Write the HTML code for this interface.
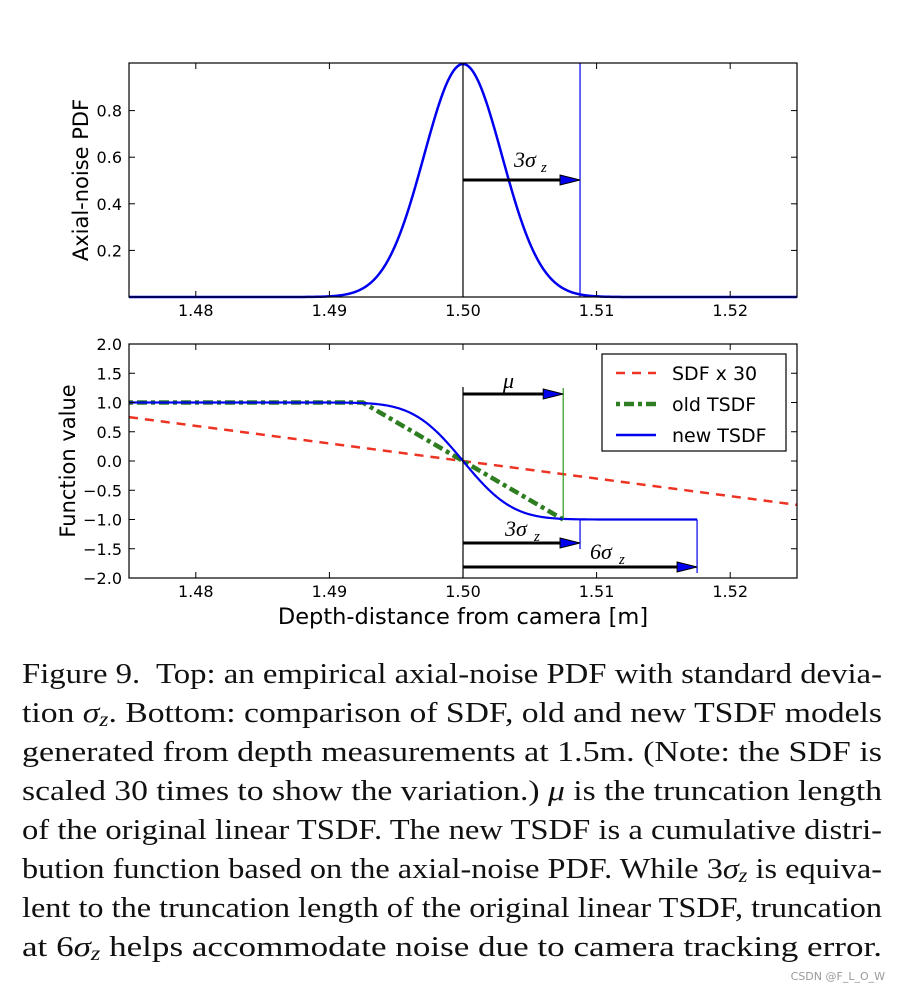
<!DOCTYPE html>
<html><head><meta charset="utf-8"><style>
body{margin:0;background:#fff;width:899px;height:994px;overflow:hidden;font-family:"DejaVu Sans",sans-serif}
#cap{position:absolute;left:22px;top:655px;width:860px;font-family:"Liberation Serif",serif;font-size:29px;line-height:39px;color:#111}
#cap .ln{height:39px;white-space:nowrap}
#cap .ln span{display:inline-block;transform-origin:0 50%}
#cap sub{font-size:20px;position:relative;top:4px;vertical-align:baseline;line-height:0}
#wm{position:absolute;right:14px;top:970px;font-size:11px;color:#999}
</style></head><body>
<svg id="fig" width="899" height="650" style="position:absolute;left:0;top:0"></svg>
<div id="cap">
<div class="ln"><span>Figure 9.&nbsp; Top: an empirical axial-noise PDF with standard devia-</span></div>
<div class="ln"><span>tion <i>σ<sub>z</sub></i>. Bottom: comparison of SDF, old and new TSDF models</span></div>
<div class="ln"><span>generated from depth measurements at 1.5m. (Note: the SDF is</span></div>
<div class="ln"><span>scaled 30 times to show the variation.) <i>μ</i> is the truncation length</span></div>
<div class="ln"><span>of the original linear TSDF. The new TSDF is a cumulative distri-</span></div>
<div class="ln"><span>bution function based on the axial-noise PDF. While 3<i>σ<sub>z</sub></i> is equiva-</span></div>
<div class="ln"><span>lent to the truncation length of the original linear TSDF, truncation</span></div>
<div class="ln"><span>at 6<i>σ<sub>z</sub></i> helps accommodate noise due to camera tracking error.</span></div>
</div>
<div id="wm">CSDN @F_L_O_W</div>
<script>
document.querySelectorAll('#cap .ln span').forEach(sp=>{const w=sp.getBoundingClientRect().width;sp.style.transform='scaleX('+(860/w)+')';});
const xTicks=[1.48,1.49,1.50,1.51,1.52];
const xTickLabels=["1.48","1.49","1.50","1.51","1.52"];
const topYTicks=[0.2,0.4,0.6,0.8];
const botYTicks=[2.0,1.5,1.0,0.5,0.0,-0.5,-1.0,-1.5,-2.0];
const depth=[1.5];
const sigma=[0.00292];
const mu=[0.0075];
const sdfScale=[30];
const legendLabels=["SDF x 30","old TSDF","new TSDF"];
const NS="http://www.w3.org/2000/svg";
const svg=document.getElementById('fig');
const X0=129,X1=797;
const sx=v=>X0+(v-1.475)/(0.05)*(X1-X0);
const tyT=v=>297-v*233;
const tyB=v=>344+(2-v)*(578-344)/4;
function el(t,a,p){const e=document.createElementNS(NS,t);for(const k in a)e.setAttribute(k,a[k]);(p||svg).appendChild(e);return e;}
function txt(s,x,y,a,p){const e=el('text',Object.assign({x:x,y:y,'font-size':16,fill:'#000'},a||{}),p);e.textContent=s;return e;}
const m=depth[0],s=sigma[0];
function erf(x){const t=1/(1+0.3275911*Math.abs(x));const y=1-(((((1.061405429*t-1.453152027)*t)+1.421413741)*t-0.284496736)*t+0.254829592)*t*Math.exp(-x*x);return x>=0?y:-y;}
function arrow(x1,x2,y,name){const g=el('g',{});
el('line',{x1:x1,y1:y,x2:x2-14,y2:y,stroke:'#000',"stroke-width":3},g);
el('polygon',{points:`${x2-20},${y-5} ${x2},${y} ${x2-20},${y+5}`,fill:'#0000ee',stroke:'#000','stroke-width':1},g);}
function axes(name){const g=el('g',{});return g;}
const gT=axes('top-pdf-axes');
const pts=[];for(let i=0;i<=400;i++){const x=1.475+i*0.05/400;pts.push(sx(x)+','+tyT(Math.exp(-((x-m)**2)/(2*s*s))));}
el('line',{x1:sx(m),y1:63,x2:sx(m),y2:297,stroke:'#000','stroke-width':1.2},gT);
el('line',{x1:sx(m+3*s),y1:63,x2:sx(m+3*s),y2:297,stroke:'#0000ee','stroke-width':1.2},gT);
const pdf=el('polyline',{points:pts.join(' '),fill:'none',stroke:'#0000ee','stroke-width':2.5},gT);

arrow(sx(m),sx(m+3*s),180,'top-3sigma-arrow');
const l1=txt('3σ',514,167,{'font-family':'Liberation Serif,serif','font-size':22,'font-style':'italic'});
txt('z',541,172,{'font-family':'Liberation Serif,serif','font-size':15,'font-style':'italic'});
el('rect',{x:X0,y:63,width:X1-X0,height:234,fill:'none',stroke:'#000','stroke-width':1.2},gT);
topYTicks.forEach(v=>{const y=tyT(v);el('line',{x1:X0,y1:y,x2:X0+6,y2:y,stroke:'#000'},gT);el('line',{x1:X1,y1:y,x2:X1-6,y2:y,stroke:'#000'},gT);const t=txt(v.toFixed(1),122,y+6,{'text-anchor':'end'},gT);});
xTicks.forEach((v,i)=>{const x=sx(v);el('line',{x1:x,y1:297,x2:x,y2:291,stroke:'#000'},gT);el('line',{x1:x,y1:63,x2:x,y2:69,stroke:'#000'},gT);const t=txt(xTickLabels[i],x,316,{'text-anchor':'middle'},gT);});
const yl1=txt('Axial-noise PDF',0,0,{'font-size':21,'text-anchor':'middle',transform:'translate(88,180) rotate(-90)'});
const gB=axes('bottom-tsdf-axes');
const sdf=el('line',{x1:sx(1.475),y1:tyB(sdfScale[0]*(m-1.475)),x2:sx(1.525),y2:tyB(sdfScale[0]*(m-1.525)),stroke:'#ee3322','stroke-width':2.5,'stroke-dasharray':'9,7'},gB);
const od=[];[1.475,m-mu[0],m+mu[0]].forEach((x,i)=>od.push(sx(x)+','+tyB(i<2?1:-1)));
const old=el('polyline',{points:od.join(' '),fill:'none',stroke:'#2e7d20','stroke-width':4.5,'stroke-dasharray':'4,4,10,4'},gB);
const np=[];for(let i=0;i<=400;i++){const x=1.475+i*(m+6*s-1.475)/400;let v=-erf((x-m)/(s*Math.SQRT2));np.push(sx(x)+','+tyB(v));}
const nw=el('polyline',{points:np.join(' '),fill:'none',stroke:'#0000ee','stroke-width':2.2},gB);
el('line',{x1:sx(m),y1:387,x2:sx(m),y2:578,stroke:'#000','stroke-width':1.2},gB);
el('line',{x1:sx(m+mu[0]),y1:388,x2:sx(m+mu[0]),y2:tyB(-1),stroke:'#2e9a20','stroke-width':1.2},gB);
el('line',{x1:sx(m+3*s),y1:tyB(-1),x2:sx(m+3*s),y2:549,stroke:'#0000ee','stroke-width':1.2},gB);
el('line',{x1:sx(m+6*s),y1:tyB(-1),x2:sx(m+6*s),y2:573,stroke:'#0000ee','stroke-width':1.2},gB);
arrow(sx(m),sx(m+mu[0]),394,'mu-arrow');
arrow(sx(m),sx(m+3*s),543,'bottom-3sigma-arrow');
arrow(sx(m),sx(m+6*s),567,'6sigma-arrow');
txt('μ',503,388,{'font-family':'Liberation Serif,serif','font-size':22,'font-style':'italic'});
txt('3σ',505,536,{'font-family':'Liberation Serif,serif','font-size':22,'font-style':'italic'});
txt('z',534,541,{'font-family':'Liberation Serif,serif','font-size':15,'font-style':'italic'});
txt('6σ',590,559,{'font-family':'Liberation Serif,serif','font-size':22,'font-style':'italic'});
txt('z',619,564,{'font-family':'Liberation Serif,serif','font-size':15,'font-style':'italic'});
el('rect',{x:X0,y:344,width:X1-X0,height:234,fill:'none',stroke:'#000','stroke-width':1.2},gB);
botYTicks.forEach(v=>{const y=tyB(v);el('line',{x1:X0,y1:y,x2:X0+6,y2:y,stroke:'#000'},gB);el('line',{x1:X1,y1:y,x2:X1-6,y2:y,stroke:'#000'},gB);const t=txt((v<0?'\u2212':'')+Math.abs(v).toFixed(1),122,y+6,{'text-anchor':'end'},gB);});
xTicks.forEach((v,i)=>{const x=sx(v);el('line',{x1:x,y1:578,x2:x,y2:572,stroke:'#000'},gB);el('line',{x1:x,y1:344,x2:x,y2:350,stroke:'#000'},gB);const t=txt(xTickLabels[i],x,597,{'text-anchor':'middle'},gB);});
const yl2=txt('Function value',0,0,{'font-size':21,'text-anchor':'middle',transform:'translate(75,461) rotate(-90)'});
const xl=txt('Depth-distance from camera [m]',463,624,{'font-size':22.5,'text-anchor':'middle'});
const lg=el('g',{});
el('rect',{x:602,y:354,width:184,height:97,fill:'#fff',stroke:'#000','stroke-width':1.2},lg);
const sty=[{stroke:'#ee3322','stroke-width':2.5,'stroke-dasharray':'9,7'},{stroke:'#2e7d20','stroke-width':4.5,'stroke-dasharray':'4,4,10,4'},{stroke:'#0000ee','stroke-width':2.5}];
legendLabels.forEach((l,i)=>{const y=373+i*31;const e=el('g',{},lg);
el('line',Object.assign({x1:616,y1:y,x2:656,y2:y},sty[i]),e);txt(l,672,y+7,{'font-size':19},e);});
</script>
</body></html>
